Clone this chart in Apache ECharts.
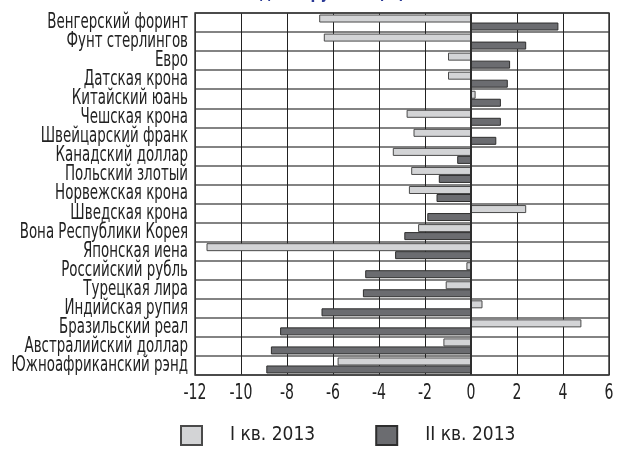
<!DOCTYPE html>
<html>
<head>
<meta charset="utf-8">
<script src="https://cdn.jsdelivr.net/npm/echarts@6/dist/echarts.min.js"></script>
<style>
  html, body { margin: 0; padding: 0; background: #fff; }
  #chart { width: 634px; height: 450px; }
</style>
</head>
<body>
<div id="chart"></div>
<script>
// Currencies, top to bottom
const currencies = [
  'Венгерский форинт', 'Фунт стерлингов', 'Евро', 'Датская крона',
  'Китайский юань', 'Чешская крона', 'Швейцарский франк', 'Канадский доллар',
  'Польский злотый', 'Норвежская крона', 'Шведская крона',
  'Вона Республики Корея', 'Японская иена', 'Российский рубль',
  'Турецкая лира', 'Индийская рупия', 'Бразильский реал',
  'Австралийский доллар', 'Южноафриканский рэнд'
];

// Change vs US dollar, %
const q1_2013 = [-6.6, -6.4, -1.0, -1.0, 0.2, -2.8, -2.5, -3.4, -2.6, -2.7,
                 2.4, -2.3, -11.5, -0.2, -1.1, 0.5, 4.8, -1.2, -5.8];
const q2_2013 = [3.8, 2.4, 1.7, 1.6, 1.3, 1.3, 1.1, -0.6, -1.4, -1.5,
                 -1.9, -2.9, -3.3, -4.6, -4.7, -6.5, -8.3, -8.7, -8.9];

const seriesNames = ['I кв. 2013', 'II кв. 2013'];
const xTicks = [-12, -10, -8, -6, -4, -2, 0, 2, 4, 6];
const subtitle = 'к доллару США (%)';

const FONT = '"DejaVu Sans Condensed", "DejaVu Sans", sans-serif';
const NARROW = 0.71;   // horizontal squeeze for the condensed lettering
const TEXT = '#222';

const chart = echarts.init(document.getElementById('chart'), null, { renderer: 'canvas' });

const baseOption = {
  animation: false,
  backgroundColor: '#ffffff',
  grid: { left: 195, right: 25, top: 13, bottom: 75, containLabel: false },
  legend: {
    left: 180,
    top: 425,
    padding: 0,
    itemWidth: 21,
    itemHeight: 19,
    itemGap: 60,
    icon: 'rect',
    textStyle: { fontFamily: FONT, fontSize: 19, color: TEXT, padding: [0, 0, 0, 23] },
    data: seriesNames
  },
  xAxis: {
    type: 'value',
    min: xTicks[0],
    max: xTicks[xTicks.length - 1],
    interval: xTicks[1] - xTicks[0],
    axisLine: { show: false },
    axisTick: { show: false },
    axisLabel: { show: false },
    splitLine: { show: true, lineStyle: { color: '#222', width: 1 } }
  },
  yAxis: {
    type: 'category',
    inverse: true,
    data: currencies,
    axisLine: { show: false },
    axisTick: { show: false },
    axisLabel: { show: false },
    splitLine: { show: true, lineStyle: { color: '#5a5a5a', width: 1.5 } }
  },
  series: [
    {
      name: seriesNames[0],
      type: 'bar',
      data: q1_2013,
      barWidth: 8,
      barGap: '0%',
      itemStyle: { color: '#d3d4d6', borderColor: '#4a4a4a', borderWidth: 1 }
    },
    {
      name: seriesNames[1],
      type: 'bar',
      data: q2_2013,
      barWidth: 8,
      barGap: '0%',
      itemStyle: { color: '#6b6c70', borderColor: '#2e2e2e', borderWidth: 1 },
      markLine: {
        silent: true,
        symbol: 'none',
        label: { show: false },
        lineStyle: { color: '#2e2e2e', width: 2, type: 'solid' },
        data: [{ xAxis: 0 }]
      }
    }
  ]
};
chart.setOption(baseOption);

// Condensed text drawn as graphic elements, anchored through the axes
function narrowText(str, x, y, size, align, color, weight) {
  return {
    type: 'text',
    x: x, y: y,
    scaleX: NARROW,
    silent: true,
    style: {
      text: str, x: 0, y: 0,
      textAlign: align, textVerticalAlign: 'middle',
      fill: color || TEXT,
      font: (weight || 'normal') + ' ' + size + 'px ' + FONT
    },
    z: 20
  };
}

const rect = chart.getModel().getComponent('grid').coordinateSystem.getRect();
const graphics = [];

// plot frame
graphics.push({
  type: 'rect',
  shape: { x: rect.x, y: rect.y, width: rect.width, height: rect.height },
  style: { fill: 'none', stroke: '#3a3a3a', lineWidth: 1.5 },
  z: 10
});

// category labels
currencies.forEach(function (name) {
  const py = chart.convertToPixel({ yAxisIndex: 0 }, name);
  graphics.push(narrowText(name, rect.x - 7, py, 21, 'right'));
});

// value tick labels
xTicks.forEach(function (v) {
  const px = chart.convertToPixel({ xAxisIndex: 0 }, v);
  graphics.push(narrowText(String(v), px, rect.y + rect.height + 18, 22, 'center'));
});

// heading line, mostly above the top edge
graphics.push(narrowText(subtitle, 325, -8, 22, 'center', '#2b3a96', 'bold'));

chart.setOption({ graphic: graphics });
</script>
</body>
</html>
